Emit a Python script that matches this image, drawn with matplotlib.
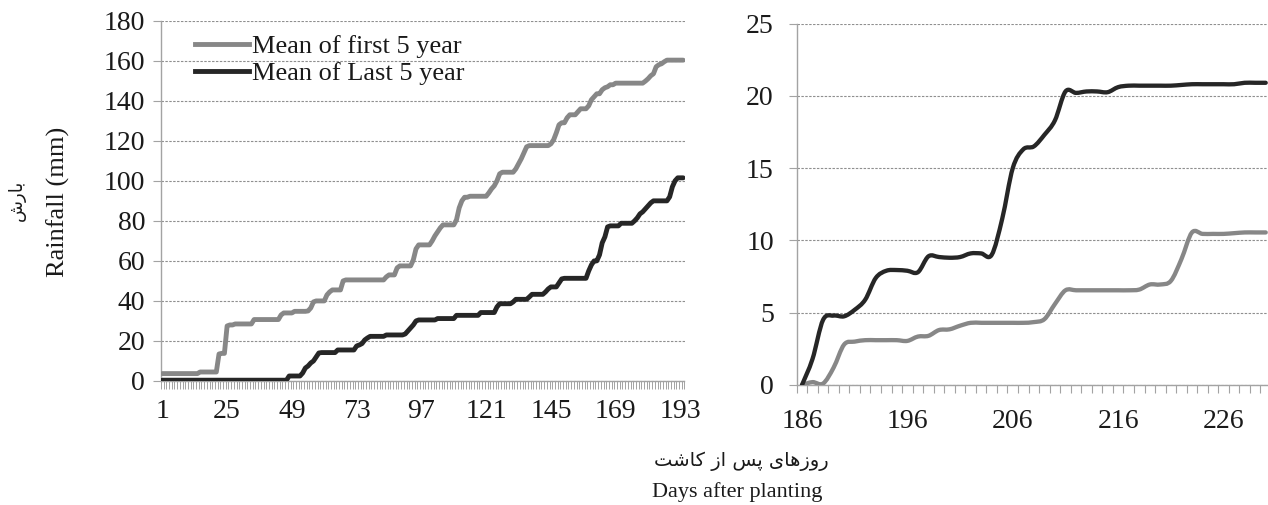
import matplotlib
matplotlib.use('Agg')
import matplotlib.pyplot as plt
from matplotlib.path import Path
from matplotlib.patches import PathPatch
from matplotlib.lines import Line2D
import numpy as np

# ---------------- data ----------------
series_names = ["Mean of first 5 year", "Mean of Last 5 year"]

# left panel: days after planting 1..194 (cumulative rainfall, mm)
days_left = list(range(1, 195))
left_tick_labels = [1, 25, 49, 73, 97, 121, 145, 169, 193]

first5_left = [
    3.7, 3.7, 3.7, 3.7, 3.7, 3.7, 3.7, 3.7, 3.7, 3.7,            # 1-10
    3.7, 3.7, 3.7, 3.7, 4.5, 4.5, 4.5, 4.5, 4.5, 4.5,            # 11-20
    4.5, 13.5, 13.8, 13.8, 27.5, 28.0, 28.0, 28.5, 28.5, 28.5,   # 21-30
    28.5, 28.5, 28.5, 28.5, 30.7, 30.7, 30.7, 30.7, 30.7, 30.7,  # 31-40
    30.7, 30.7, 30.7, 30.7, 33.0, 34.0, 34.0, 34.0, 34.0, 34.8,  # 41-50
    34.8, 34.8, 34.8, 34.8, 35.0, 36.5, 39.5, 40.0, 40.0, 40.0,  # 51-60
    40.0, 43.0, 44.5, 45.5, 45.5, 45.5, 45.5, 50.0, 50.5, 50.5,  # 61-70
    50.5, 50.5, 50.5, 50.5, 50.5, 50.5, 50.5, 50.5, 50.5, 50.5,  # 71-80
    50.5, 50.5, 50.5, 52.0, 53.0, 53.0, 53.0, 56.5, 57.5, 57.5,  # 81-90
    57.5, 57.5, 57.5, 60.5, 66.0, 68.0, 68.0, 68.0, 68.0, 68.0,  # 91-100
    70.0, 72.5, 74.5, 76.5, 78.0, 78.0, 78.0, 78.0, 78.0, 80.5,  # 101-110
    86.5, 90.0, 91.8, 91.8, 92.3, 92.3, 92.3, 92.3, 92.3, 92.3,  # 111-120
    92.3, 94.0, 96.0, 97.5, 100.0, 103.5, 104.3, 104.3, 104.3, 104.3,  # 121-130
    104.3, 106.0, 108.5, 111.0, 114.0, 117.0, 117.6, 117.6, 117.6, 117.6,  # 131-140
    117.6, 117.6, 117.6, 117.6, 118.5, 120.5, 124.0, 128.0, 129.0, 129.0,  # 141-150
    131.5, 133.0, 133.0, 133.0, 134.5, 136.0, 136.0, 136.0, 137.5, 140.5,  # 151-160
    142.0, 143.5, 143.5, 145.5, 146.5, 147.0, 148.0, 148.0, 148.8, 148.8,  # 161-170
    148.8, 148.8, 148.8, 148.8, 148.8, 148.8, 148.8, 148.8, 148.8, 149.8,  # 171-180
    151.0, 152.5, 153.5, 157.0, 158.0, 158.5, 159.5, 160.3, 160.3, 160.3,  # 181-190
    160.3, 160.3, 160.3, 160.3,                                            # 191-194
]

last5_left = [
    0.4, 0.4, 0.4, 0.4, 0.4, 0.4, 0.4, 0.4, 0.4, 0.4,            # 1-10
    0.4, 0.4, 0.4, 0.4, 0.4, 0.4, 0.4, 0.4, 0.4, 0.4,            # 11-20
    0.4, 0.4, 0.4, 0.4, 0.4, 0.4, 0.4, 0.4, 0.4, 0.4,            # 21-30
    0.4, 0.4, 0.4, 0.4, 0.4, 0.4, 0.4, 0.4, 0.4, 0.4,            # 31-40
    0.4, 0.4, 0.4, 0.4, 0.4, 0.4, 0.4, 2.5, 2.5, 2.5,            # 41-50
    2.5, 2.5, 4.0, 6.5, 7.5, 9.0, 10.0, 12.0, 14.0, 14.2,        # 51-60
    14.2, 14.2, 14.2, 14.2, 14.2, 15.5, 15.5, 15.5, 15.5, 15.5,  # 61-70
    15.5, 15.5, 17.5, 18.0, 18.7, 20.5, 21.5, 22.3, 22.3, 22.3,  # 71-80
    22.3, 22.3, 22.3, 23.0, 23.0, 23.0, 23.0, 23.0, 23.0, 23.0,  # 81-90
    23.5, 25.0, 26.5, 28.0, 30.0, 30.5, 30.5, 30.5, 30.5, 30.5,  # 91-100
    30.5, 30.5, 31.2, 31.2, 31.2, 31.2, 31.2, 31.2, 31.2, 32.8,  # 101-110
    32.8, 32.8, 32.8, 32.8, 32.8, 32.8, 32.8, 32.8, 34.2, 34.2,  # 111-120
    34.2, 34.2, 34.2, 34.2, 37.0, 38.6, 38.6, 38.6, 38.6, 38.6,  # 121-130
    39.5, 40.8, 40.8, 40.8, 40.8, 40.8, 42.0, 43.3, 43.3, 43.3,  # 131-140
    43.3, 43.3, 44.5, 46.0, 47.0, 47.0, 47.0, 49.0, 51.0, 51.3,  # 141-150
    51.3, 51.3, 51.3, 51.3, 51.3, 51.3, 51.3, 51.3, 55.0, 58.0,  # 151-160
    60.0, 60.0, 63.0, 69.0, 72.0, 77.0, 77.5, 77.5, 77.5, 77.5,  # 161-170
    78.8, 78.8, 78.8, 78.8, 78.8, 80.0, 81.5, 83.5, 84.5, 86.0,  # 171-180
    87.5, 89.0, 90.0, 90.0, 90.0, 90.0, 90.0, 90.0, 92.0, 97.0,  # 181-190
    100.0, 101.5, 101.5, 101.5,                                  # 191-194
]

# right panel: days 186..230
days_right = list(range(186, 231))
right_tick_labels = [186, 196, 206, 216, 226]

first5_right = [
    0.0, 0.2, 0.1, 1.2, 2.8, 3.0, 3.1, 3.1, 3.1, 3.1,        # 186-195
    3.05, 3.35, 3.4, 3.8, 3.85, 4.1, 4.3, 4.3, 4.3, 4.3,     # 196-205
    4.3, 4.3, 4.35, 4.55, 5.6, 6.55, 6.55, 6.55, 6.55, 6.55, # 206-215
    6.55, 6.55, 6.6, 6.95, 6.95, 7.2, 8.7, 10.55, 10.45, 10.45,  # 216-225
    10.45, 10.5, 10.55, 10.55, 10.55,                        # 226-230
]
last5_right = [
    0.0, 1.8, 4.5, 4.8, 4.75, 5.2, 5.9, 7.4, 7.9, 7.95,      # 186-195
    7.9, 7.8, 8.9, 8.85, 8.8, 8.85, 9.1, 9.1, 9.0, 11.5,     # 196-205
    15.0, 16.3, 16.5, 17.3, 18.3, 20.3, 20.2, 20.3, 20.3, 20.25,  # 206-215
    20.6, 20.7, 20.7, 20.7, 20.7, 20.7, 20.75, 20.8, 20.8, 20.8,  # 216-225
    20.8, 20.8, 20.9, 20.9, 20.9,                            # 226-230
]

left_yticks = [0, 20, 40, 60, 80, 100, 120, 140, 160, 180]
right_yticks = [0, 5, 10, 15, 20, 25]

ylabel_en = "Rainfall (mm)"
ylabel_fa = "\uFEB5\uFEAD\uFE8E\uFE91"  # بارش (visual order, shaped)
xlabel_fa = ("\uFE96\uFEB7\uFE8E\uFB90 \uFEAF\uFE8D \uFEB2\uFB58 "
             "\uFEEF\uFE8E\uFEEB\uFEAF\uFEED\uFEAD")  # روزهای پس از کاشت
xlabel_en = "Days after planting"

# ---------------- style ----------------
GRAY = '#878787'
DARK = '#262626'
AXC = '#a3a3a3'
GRIDC = '#8f8f8f'
plt.rcParams['font.family'] = ['Liberation Serif', 'DejaVu Sans']
plt.rcParams['text.color'] = '#1a1a1a'

W, H = 1268, 505
fig = plt.figure(figsize=(W / 100, H / 100), dpi=100)

axL = fig.add_axes([161 / W, 1 - 381 / H, 523.5 / W, (381 - 20.7) / H])
axR = fig.add_axes([796.7 / W, 1 - 385 / H, 474.3 / W, (385 - 23.5) / H])


def smooth_path(xs, ys):
    pts = np.column_stack([xs, ys]).astype(float)
    n = len(pts)
    verts = [pts[0]]
    codes = [Path.MOVETO]
    for i in range(n - 1):
        p0 = pts[i - 1] if i > 0 else pts[i]
        p1 = pts[i]
        p2 = pts[i + 1]
        p3 = pts[i + 2] if i + 2 < n else pts[i + 1]
        c1 = p1 + (p2 - p0) / 6.0
        c2 = p2 - (p3 - p1) / 6.0
        verts += [c1, c2, p2]
        codes += [Path.CURVE4] * 3
    return Path(verts, codes)


def style_axes(ax, yticks, ypad):
    for s in ['top', 'right']:
        ax.spines[s].set_visible(False)
    for s in ['left', 'bottom']:
        ax.spines[s].set_color(AXC)
        ax.spines[s].set_linewidth(1.0)
    ax.set_yticks(yticks)
    ax.set_ylim(yticks[0], yticks[-1])
    ax.yaxis.grid(True, linestyle=(0, (2.2, 1.3)), color=GRIDC, linewidth=0.8)
    ax.set_axisbelow(True)
    ax.tick_params(axis='y', length=5.5, width=0.8, color=AXC, pad=ypad,
                   labelsize=20, labelcolor='#1a1a1a')


# left panel
lw = 3.5
lineF, = axL.plot(days_left, first5_left, color=GRAY, lw=lw,
                  solid_joinstyle='round', solid_capstyle='round', zorder=3)
lineL, = axL.plot(days_left, last5_left, color=DARK, lw=lw,
                  solid_joinstyle='round', solid_capstyle='round', zorder=4)
axL.set_xlim(days_left[0] - 0.5, days_left[-1] + 0.5)
style_axes(axL, left_yticks, 6)
axL.set_xticks(left_tick_labels)
axL.set_xticklabels([str(v) for v in left_tick_labels])
axL.set_xticks(np.arange(days_left[0] - 0.5, days_left[-1] + 1.0, 1.0), minor=True)
axL.tick_params(axis='x', which='major', length=0, pad=13, labelsize=20,
                labelcolor='#1a1a1a')
axL.tick_params(axis='x', which='minor', length=5.5, width=0.7, color=AXC)

axL.legend([Line2D([], [], color=GRAY, lw=lw), Line2D([], [], color=DARK, lw=lw)],
           series_names, loc='upper left',
           bbox_to_anchor=(195 / W, 1 - 35 / H), bbox_transform=fig.transFigure,
           frameon=False, borderpad=0, borderaxespad=0, handlelength=2.05,
           handletextpad=0.12, labelspacing=0.12, fontsize=19)

# right panel (smoothed lines)
axR.add_patch(PathPatch(smooth_path(days_right, first5_right), facecolor='none',
                        edgecolor=GRAY, lw=3.1, capstyle='round',
                        joinstyle='round', zorder=3))
axR.add_patch(PathPatch(smooth_path(days_right, last5_right), facecolor='none',
                        edgecolor=DARK, lw=3.1, capstyle='round',
                        joinstyle='round', zorder=4))
axR.set_xlim(days_right[0] - 0.5, days_right[-1] + 0.5)
style_axes(axR, right_yticks, 11)
axR.set_xticks(right_tick_labels)
axR.set_xticklabels([str(v) for v in right_tick_labels])
axR.set_xticks(np.arange(days_right[0] - 0.5, days_right[-1] + 1.0, 1.0), minor=True)
axR.tick_params(axis='x', which='major', length=0, pad=17, labelsize=20,
                labelcolor='#1a1a1a')
axR.tick_params(axis='x', which='minor', length=5.5, width=0.8, color=AXC)

# axis titles
fig.text(58 / W, 1 - 202 / H, ylabel_en, rotation=90, ha='center', va='center',
         fontsize=19)
fig.text(17 / W, 1 - 200 / H, ylabel_fa, rotation=90, ha='center', va='center',
         fontsize=13, family=['DejaVu Sans'])
fig.text(741 / W, 1 - 461 / H, xlabel_fa, ha='center', va='center',
         fontsize=14, family=['DejaVu Sans'])
fig.text(737 / W, 1 - 492 / H, xlabel_en, ha='center', va='center', fontsize=16)

fig.savefig('out.png', dpi=100)
